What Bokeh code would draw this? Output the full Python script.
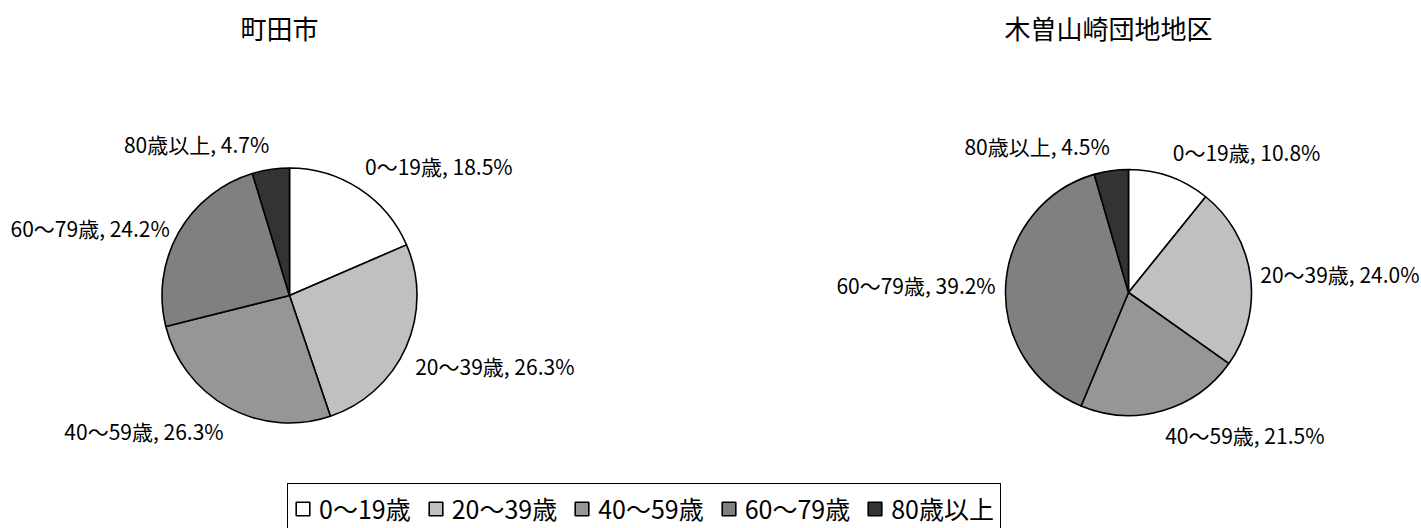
import math
from bokeh.plotting import figure
from bokeh.models import ColumnDataSource, Range1d, Legend, LegendItem
from bokeh.embed import file_html
from bokeh.resources import INLINE
from bokeh.core.properties import value

# ---------------- data ----------------
categories = ["0〜19歳", "20〜39歳", "40〜59歳", "60〜79歳", "80歳以上"]
machida = [18.5, 26.3, 26.3, 24.2, 4.7]
kiso = [10.8, 24.0, 21.5, 39.2, 4.5]
titles = ["町田市", "木曽山崎団地地区"]
colors = ["#FFFFFF", "#C0C0C0", "#969696", "#808080", "#333333"]

# ---------------- layout (canvas pixels, y from top) ----------------
W, H = 1421, 528
FONT = "Noto Sans CJK JP"
pie_layout = [
    dict(cx=289, cy=295, r=127.5, tx=279),
    dict(cx=1128, cy=292, r=123.0, tx=1108),
]
title_y = 27
label_gap = 10

p = figure(width=W, height=H, x_range=Range1d(0, W), y_range=Range1d(0, H),
           output_backend="svg", toolbar_location=None, min_border=0)
p.axis.visible = False
p.grid.visible = False
p.outline_line_color = None
p.background_fill_color = "white"
p.border_fill_color = "white"

renderers = []
for series, lay, title in zip([machida, kiso], pie_layout, titles):
    total = sum(series)
    cx, cy = lay["cx"], H - lay["cy"]
    r = lay["r"]
    starts, ends, lx, ly, la, lb, lt = [], [], [], [], [], [], []
    cum = 0.0
    for cat, v in zip(categories, series):
        a0 = math.pi / 2 - 2 * math.pi * cum / total
        cum += v
        a1 = math.pi / 2 - 2 * math.pi * cum / total
        starts.append(a0)
        ends.append(a1)
        mid = (a0 + a1) / 2
        c, s = math.cos(mid), math.sin(mid)
        R = r + label_gap
        lx.append(cx + R * c)
        ly.append(cy + R * s)
        la.append("left" if c > 0.1 else ("right" if c < -0.1 else "center"))
        lb.append("bottom" if s > 0.6 else ("top" if s < -0.3 else "middle"))
        lt.append(f"{cat}, {v:.1f}%")
    src = ColumnDataSource(dict(x=[cx] * len(series), y=[cy] * len(series), r=[r] * len(series),
                                start=starts, end=ends, color=colors))
    rr = p.wedge(x="x", y="y", radius="r", start_angle="start", end_angle="end",
                 direction="clock", fill_color="color", line_color="black",
                 line_width=1.6, source=src)
    renderers.append(rr)
    lsrc = ColumnDataSource(dict(x=lx, y=ly, text=lt, align=la, base=lb))
    p.text(x="x", y="y", text="text", text_align="align", text_baseline="base",
           text_font=value(FONT), text_font_size="21px", text_color="black", source=lsrc)
    tsrc = ColumnDataSource(dict(x=[lay["tx"]], y=[H - title_y], text=[title]))
    p.text(x="x", y="y", text="text", text_align="center", text_baseline="middle",
           text_font=value(FONT), text_font_size="26px", text_color="black", source=tsrc)

items = [LegendItem(label=cat, renderers=[renderers[0]], index=i) for i, cat in enumerate(categories)]
legend = Legend(items=items, orientation="horizontal", location=(287, -5),
                label_text_font=FONT, label_text_font_size="25px", label_text_color="black",
                glyph_width=17, glyph_height=17, label_standoff=8, spacing=16, padding=6,
                border_line_color="black", border_line_alpha=1.0, border_line_width=1.6,
                background_fill_color="white", background_fill_alpha=1.0, margin=0)
p.add_layout(legend)

open("out.html", "w").write(file_html(p, INLINE))
